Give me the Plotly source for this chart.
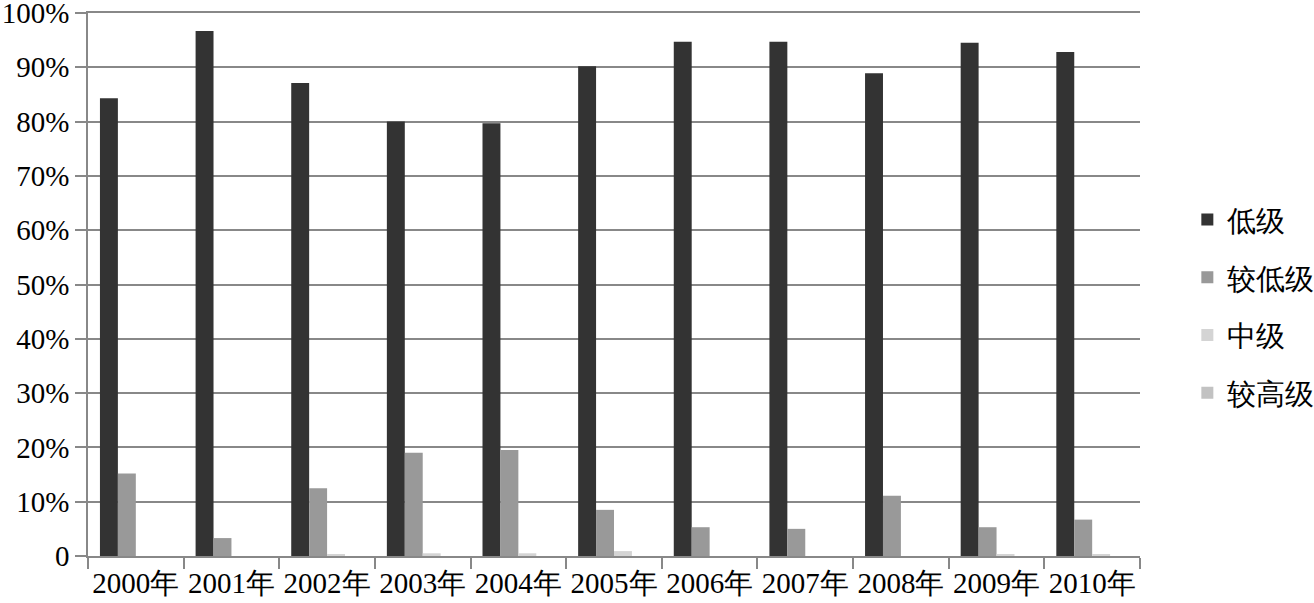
import plotly.graph_objects as go

years = ["2000年", "2001年", "2002年", "2003年", "2004年", "2005年",
         "2006年", "2007年", "2008年", "2009年", "2010年"]
low = [84.3, 96.7, 87.1, 80.0, 79.7, 90.2, 94.7, 94.7, 88.9, 94.5, 92.8]
lower = [15.2, 3.3, 12.5, 19.0, 19.5, 8.5, 5.3, 5.0, 11.1, 5.3, 6.7]
middle = [0.0, 0.0, 0.3, 0.5, 0.5, 0.9, 0.0, 0.0, 0.0, 0.3, 0.3]
higher = [0.0, 0.0, 0.0, 0.0, 0.0, 0.0, 0.0, 0.0, 0.0, 0.0, 0.0]

names = ["低级", "较低级", "中级", "较高级"]
colors = ["#333333", "#999999", "#d4d4d4", "#c2c2c2"]
series = [low, lower, middle, higher]

ytick_vals = [0, 10, 20, 30, 40, 50, 60, 70, 80, 90, 100]
ytick_text = ["0", "10%", "20%", "30%", "40%", "50%", "60%", "70%", "80%", "90%", "100%"]

FONT = "Liberation Serif"

fig = go.Figure()
for i, (n, c, s) in enumerate(zip(names, colors, series)):
    fig.add_trace(go.Bar(x=years, y=s, name=n, marker=dict(color=c, line=dict(width=0)),
                         legendgroup=f"g{i}"))

fig.update_layout(
    width=1314, height=603,
    margin=dict(l=88, r=174, t=13, b=47, autoexpand=False),
    paper_bgcolor="white", plot_bgcolor="white",
    barmode="group", bargap=0.25, bargroupgap=0,
    font=dict(family=FONT, size=29, color="black"),
    legend=dict(x=1.045, xanchor="left", y=0.46, yanchor="middle",
                font=dict(family=FONT, size=29, color="black"),
                tracegroupgap=17, traceorder="grouped",
                bgcolor="rgba(0,0,0,0)"),
    xaxis=dict(showgrid=False, showline=True, linecolor="#888888", linewidth=1.5,
               mirror=True,
               ticks="outside", tickson="boundaries", ticklen=11, tickcolor="#888888",
               tickwidth=1.5, tickangle=0,
               tickfont=dict(family=FONT, size=29, color="black"),
               automargin=False),
    yaxis=dict(range=[0, 100], tickvals=ytick_vals, ticktext=ytick_text,
               showgrid=True, gridcolor="#888888", gridwidth=1.5,
               showline=True, linecolor="#888888", linewidth=1.5,
               ticks="outside", ticklen=11, tickcolor="#888888", tickwidth=1.5,
               ticklabeloverflow="allow",
               tickfont=dict(family=FONT, size=29, color="black"), zeroline=False,
               automargin=False),
)

post = (
    "document.documentElement.style.overflow='hidden';"
    "document.body.style.margin='0';"
    "document.body.style.overflow='hidden';"
)
fig.write_html("out.html",
               config={"displayModeBar": False, "responsive": False},
               post_script=post)
